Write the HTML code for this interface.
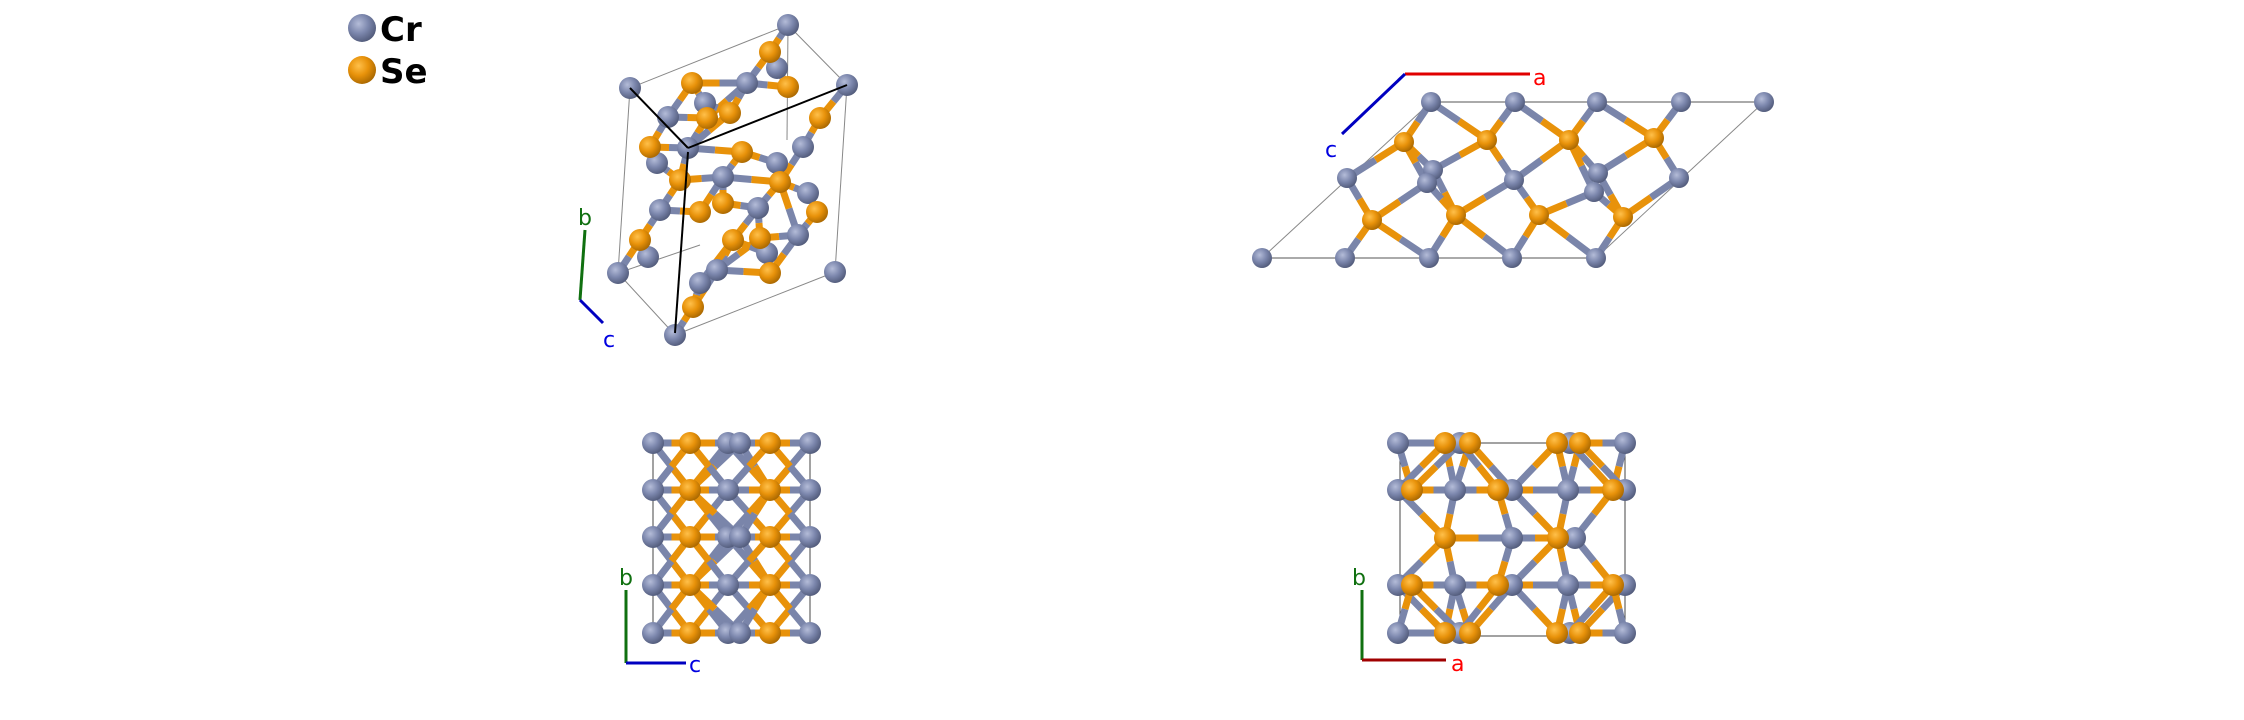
<!DOCTYPE html>
<html><head><meta charset="utf-8"><style>
html,body{margin:0;padding:0;background:#fff;}
svg{display:block;}
</style></head><body>
<svg id="s" xmlns="http://www.w3.org/2000/svg" width="2244" height="720" viewBox="0 0 2244 720" font-family="'DejaVu Sans','Liberation Sans',sans-serif">
<defs>
<radialGradient id="gCr" cx="0.38" cy="0.35" r="0.7">
<stop offset="0" stop-color="#b4bcd8"/><stop offset="0.5" stop-color="#7c87ad"/><stop offset="1" stop-color="#4f5877"/></radialGradient>
<radialGradient id="gSe" cx="0.38" cy="0.35" r="0.7">
<stop offset="0" stop-color="#ffc04a"/><stop offset="0.5" stop-color="#e8920a"/><stop offset="1" stop-color="#a56500"/></radialGradient>
</defs>
<rect width="2244" height="720" fill="#fff"/>
<circle cx="362" cy="28" r="14" fill="url(#gCr)"/>
<text x="380" y="41" font-size="34" font-weight="bold" fill="#000">Cr</text>
<circle cx="362" cy="70" r="14" fill="url(#gSe)"/>
<text x="380" y="83" font-size="34" font-weight="bold" fill="#000">Se</text>
<g id="cells" fill="none"></g>
<g id="bonds"></g>
<g id="atoms"></g>
<g id="over"></g>
<g stroke-width="3" fill="none">
<line x1="580" y1="300" x2="585" y2="230" stroke="#107010"/>
<line x1="580" y1="300" x2="603" y2="323" stroke="#0000c0"/>
<line x1="1405" y1="74" x2="1530" y2="74" stroke="#e00000"/>
<line x1="1405" y1="74" x2="1342" y2="134" stroke="#0000c0"/>
<line x1="626" y1="663" x2="626" y2="590" stroke="#107010"/>
<line x1="626" y1="663" x2="686" y2="663" stroke="#0000c0"/>
<line x1="1362" y1="660" x2="1362" y2="590" stroke="#107010"/>
<line x1="1362" y1="660" x2="1446" y2="660" stroke="#a00000"/>
</g>
<g font-size="22">
<text x="578" y="225" fill="#107010">b</text>
<text x="603" y="347" fill="#0000e0">c</text>
<text x="1533" y="85" fill="#ff0000">a</text>
<text x="1325" y="157" fill="#0000e0">c</text>
<text x="619" y="585" fill="#107010">b</text>
<text x="689" y="672" fill="#0000e0">c</text>
<text x="1352" y="585" fill="#107010">b</text>
<text x="1451" y="671" fill="#ff0000">a</text>
</g>
</svg>
<script>
var NS="http://www.w3.org/2000/svg";
function el(t,a,p){var e=document.createElementNS(NS,t);for(var k in a)e.setAttribute(k,a[k]);document.getElementById(p).appendChild(e);return e;}
var CR="#7a85aa",SE="#e8920a";
function panel(cr,se,th,r,w){
  var at=[];cr.forEach(function(p){at.push([p[0],p[1],0]);});se.forEach(function(p){at.push([p[0],p[1],1]);});
  for(var i=0;i<at.length;i++)for(var j=0;j<at.length;j++){
    if(at[i][2]!==0||at[j][2]!==1)continue;
    var dx=at[j][0]-at[i][0],dy=at[j][1]-at[i][1],d=Math.sqrt(dx*dx+dy*dy);
    if(d<th&&d>5){var mx=(at[i][0]+at[j][0])/2,my=(at[i][1]+at[j][1])/2;
      el("line",{x1:at[i][0],y1:at[i][1],x2:mx,y2:my,stroke:CR,"stroke-width":w},"bonds");
      el("line",{x1:mx,y1:my,x2:at[j][0],y2:at[j][1],stroke:SE,"stroke-width":w},"bonds");}
  }
  at.forEach(function(a){el("circle",{cx:a[0],cy:a[1],r:r,fill:a[2]?"url(#gSe)":"url(#gCr)"},"atoms");});
}
function ln(a,b,c,w){el("line",{x1:a[0],y1:a[1],x2:b[0],y2:b[1],stroke:c||"#888","stroke-width":w||1},"cells");}
var c1=[[788,25],[630,88],[847,85],[688,148],[657,163],[618,273],[835,272],[675,335],[798,235],[758,208],[723,177],[803,147],[648,257],[717,270],[660,210],[747,83],[777,68],[705,103],[668,117],[700,283],[767,253],[808,193],[777,163]];
var s1=[[770,52],[692,83],[650,147],[707,118],[730,113],[788,87],[820,118],[742,152],[780,182],[700,212],[817,212],[733,240],[640,240],[693,307],[770,273],[760,238],[723,203],[680,180]];
ln([788,25],[630,88]);ln([788,25],[847,85]);ln([788,25],[787,140]);ln([630,88],[618,273]);ln([847,85],[835,272]);ln([618,273],[675,335]);ln([675,335],[835,272]);ln([618,273],[700,245]);
panel(c1,s1,58,11,7);
el("line",{x1:630,y1:88,x2:688,y2:148,stroke:"#000","stroke-width":2},"over");
el("line",{x1:688,y1:148,x2:847,y2:85,stroke:"#000","stroke-width":2},"over");
el("line",{x1:688,y1:152,x2:675,y2:333,stroke:"#000","stroke-width":2},"over");
ln([1262,258],[1596,258],"#555");ln([1431,102],[1764,102],"#555");ln([1262,258],[1431,102]);ln([1596,258],[1764,102]);
var c2=[[1431,102],[1515,102],[1597,102],[1681,102],[1764,102],[1347,178],[1433,170],[1427,183],[1514,180],[1598,173],[1594,192],[1679,178],[1262,258],[1345,258],[1429,258],[1512,258],[1596,258]];
var s2=[[1404,142],[1487,140],[1569,140],[1654,138],[1372,220],[1456,215],[1539,215],[1623,217]];
panel(c2,s2,72,10,7);
ln([653,443],[810,443],"#444");ln([653,633],[810,633],"#444");ln([653,443],[653,633],"#444");ln([810,443],[810,633],"#444");
var c3=[],s3=[];[443,490,537,585,633].forEach(function(y){c3.push([653,y],[810,y],[728,y]);if(y==443||y==633||y==537)c3.push([740,y]);s3.push([690,y],[770,y]);});
panel(c3,s3,72,11,7);
ln([1400,443],[1625,443],"#444");ln([1400,636],[1625,636],"#444");ln([1400,443],[1400,636],"#444");ln([1625,443],[1625,636],"#444");
var c4=[[1398,443],[1625,443],[1398,490],[1625,490],[1398,585],[1625,585],[1398,633],[1625,633],[1455,490],[1455,585],[1568,490],[1568,585],[1512,538],[1460,443],[1570,443],[1460,633],[1570,633],[1512,490],[1512,585],[1575,538]];
var s4=[[1445,443],[1445,633],[1498,490],[1498,585],[1445,538],[1558,538],[1613,490],[1613,585],[1412,490],[1412,585],[1557,443],[1557,633],[1470,443],[1580,443],[1470,633],[1580,633]];
panel(c4,s4,80,11,7);
</script>
</body></html>
